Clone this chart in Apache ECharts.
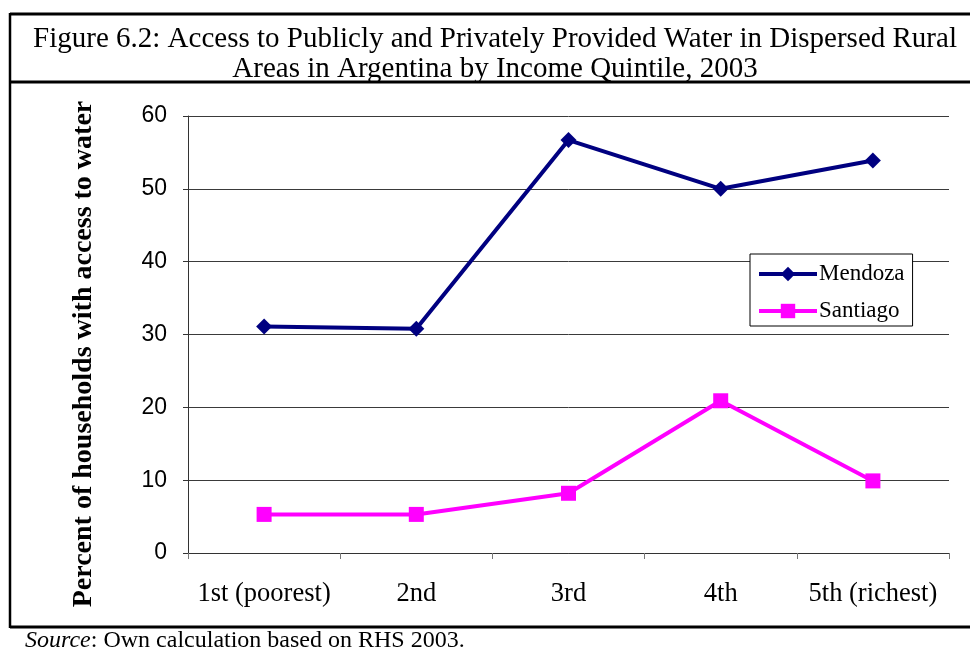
<!DOCTYPE html>
<html>
<head>
<meta charset="utf-8">
<script src="https://cdn.jsdelivr.net/npm/echarts@6/dist/echarts.min.js"></script>
<style>
  html, body { margin: 0; padding: 0; background: #fff; }
  #chart { width: 970px; height: 650px; }
</style>
</head>
<body>
<div id="chart"></div>
<script>
// Income quintiles and share of households with water access (%)
const quintiles = ['1st (poorest)', '2nd', '3rd', '4th', '5th (richest)'];
const mendoza = [31.1, 30.8, 56.7, 50.0, 53.9];
const santiago = [5.3, 5.3, 8.2, 20.9, 9.9];
const yTicks = { min: 0, max: 60, step: 10 };

const titleLines = [
  'Figure 6.2: Access to Publicly and Privately Provided Water in Dispersed Rural',
  'Areas in Argentina by Income Quintile, 2003'
];
const yAxisTitle = 'Percent of households with access to water';

const SERIF = '"Liberation Serif", "Times New Roman", serif';
const SANS = '"Liberation Sans", Arial, sans-serif';

const chart = echarts.init(document.getElementById('chart'), null, { renderer: 'canvas' });

chart.setOption({
  backgroundColor: '#ffffff',
  animation: false,
  title: {
    text: titleLines.join('\n'),
    left: 495,
    top: 24,
    padding: 0,
    textAlign: 'center',
    textStyle: {
      fontFamily: SERIF,
      fontWeight: 'normal',
      fontSize: 29,
      lineHeight: 30,
      color: '#000'
    }
  },
  grid: { left: 188, right: 21, top: 116, bottom: 97, containLabel: false },
  legend: {
    orient: 'vertical',
    left: 750,
    top: 254,
    padding: [8, 8, 3, 7],
    itemGap: 13,
    itemWidth: 58,
    itemHeight: 18,
    backgroundColor: '#ffffff',
    borderColor: '#000',
    borderWidth: 1,
    lineStyle: { width: 4 },
    textStyle: { fontFamily: SERIF, fontSize: 23, lineHeight: 24, color: '#000', padding: [0, 0, 0, -3] },
    data: ['Mendoza', 'Santiago']
  },
  xAxis: {
    type: 'category',
    data: quintiles,
    boundaryGap: true,
    axisLine: { show: true, lineStyle: { color: '#333', width: 1 } },
    axisTick: { show: true, interval: 0, length: 6, alignWithLabel: false, lineStyle: { color: '#777' } },
    axisLabel: { interval: 0, fontFamily: SERIF, fontSize: 26.5, color: '#000', margin: 28 },
    splitLine: { show: false }
  },
  yAxis: {
    type: 'value',
    min: yTicks.min,
    max: yTicks.max,
    interval: yTicks.step,
    axisLine: { show: true, lineStyle: { color: '#333', width: 1 } },
    axisTick: { show: true, length: 5, lineStyle: { color: '#333' } },
    axisLabel: { fontFamily: SANS, fontSize: 23, color: '#000', margin: 21 },
    splitLine: { show: true, lineStyle: { color: '#3a3a3a', width: 1 } }
  },
  series: [
    {
      name: 'Mendoza',
      type: 'line',
      data: mendoza,
      symbol: 'diamond',
      symbolSize: 16,
      lineStyle: { color: '#000080', width: 4 },
      itemStyle: { color: '#000080' },
      z: 3
    },
    {
      name: 'Santiago',
      type: 'line',
      data: santiago,
      symbol: 'rect',
      symbolSize: 15,
      lineStyle: { color: '#ff00ff', width: 4 },
      itemStyle: { color: '#ff00ff' },
      z: 3
    }
  ],
  graphic: [
    // frame round the figure
    { type: 'line', shape: { x1: 10, y1: 14, x2: 970, y2: 14 }, style: { stroke: '#000', lineWidth: 3 } },
    { type: 'line', shape: { x1: 10, y1: 13, x2: 10, y2: 628 }, style: { stroke: '#000', lineWidth: 2.5 } },
    { type: 'line', shape: { x1: 10, y1: 82, x2: 970, y2: 82 }, style: { stroke: '#000', lineWidth: 3 } },
    { type: 'line', shape: { x1: 10, y1: 627, x2: 970, y2: 627 }, style: { stroke: '#000', lineWidth: 3 } },
    // rotated y-axis title
    {
      type: 'text',
      x: 84,
      y: 354,
      rotation: Math.PI / 2,
      style: {
        text: yAxisTitle,
        font: 'bold 28px ' + SERIF,
        fill: '#000',
        align: 'center',
        verticalAlign: 'middle'
      }
    },
    // source note
    {
      type: 'text',
      x: 25,
      y: 641,
      style: {
        text: '{i|Source}: Own calculation based on RHS 2003.',
        rich: { i: { fontStyle: 'italic', fontFamily: SERIF, fontSize: 24, fill: '#000' } },
        font: '24px ' + SERIF,
        fill: '#000',
        verticalAlign: 'middle'
      }
    }
  ]
});
</script>
</body>
</html>
